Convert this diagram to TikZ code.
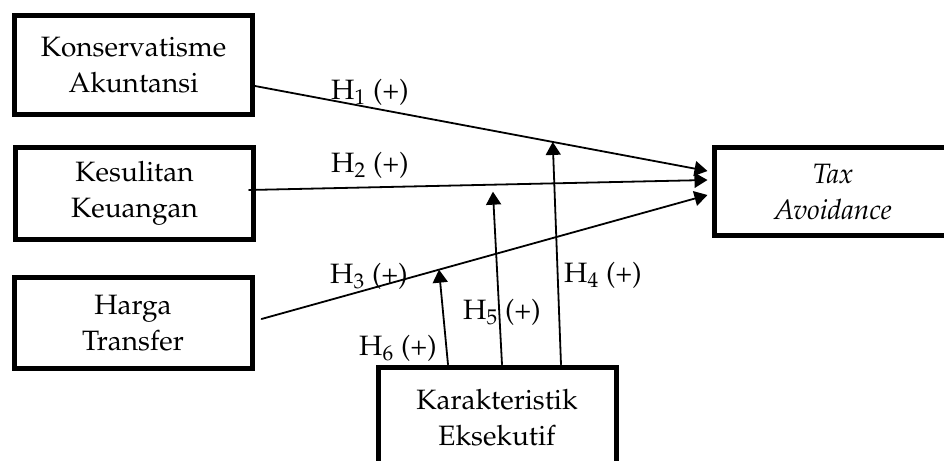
\documentclass[tikz,border=0pt]{standalone}
\usepackage[T1]{fontenc}
\usepackage{mathpazo}
\usetikzlibrary{arrows.meta,calc}
\begin{document}
\begin{tikzpicture}[x=0.5pt,y=-0.5pt,line join=round,line cap=round,font=\fontsize{14}{18}\selectfont,
	kotak/.style={draw,line width=2.5pt,line join=miter,align=center,minimum width=119pt,inner sep=0pt},
	panah/.style={line width=0.9pt,-{Triangle[length=6.5pt,width=7.5pt]}},
	hip/.style={inner sep=0pt}]
	\clip(0,0)rectangle(944,461);
	\node[kotak,minimum height=49.5pt](kons)at(133.5,65){Konservatisme\\Akuntansi};
	\node[kotak,minimum height=46pt](keu)at(134.5,193.5){Kesulitan\\Keuangan};
	\node[kotak,minimum height=45.5pt](harga)at(133,323){Harga\\Transfer};
	\node[kotak,minimum height=44pt](tax)at(833,191.5){\itshape Tax\\\itshape Avoidance};
	\node[kotak,minimum height=51pt](kar)at(497,418){Karakteristik\\Eksekutif};
	\draw[panah]($(kons.east)+(0,21)$)--($(tax.west)+(-4,-20.5)$)coordinate[pos=0.658](m1);
	\draw[panah]($(keu.east)+(-7,-3.5)$)--($(tax.west)+(-4,-11.5)$)coordinate[pos=0.532](m2);
	\draw[panah]($(harga.east)+(7,-4)$)--($(tax.west)+(-4,3.5)$)coordinate[pos=0.398](m3);
	\draw[panah]($(kar.north)+(64,0)$)--(m1);
	\draw[panah]($(kar.north)+(5,0)$)--($(m2)+(0,7)$);
	\draw[panah]($(kar.north)+(-49,0)$)--(m3);
	\node[hip](h1)at(370,92){H\textsubscript{1} (+)};
	\node[hip](h2)at(370,165){H\textsubscript{2} (+)};
	\node[hip](h3)at(369,276){H\textsubscript{3} (+)};
	\node[hip](h4)at(603,275){H\textsubscript{4} (+)};
	\node[hip](h5)at(502,312){H\textsubscript{5} (+)};
	\node[hip](h6)at(398,348){H\textsubscript{6} (+)};
\end{tikzpicture}
\end{document}
